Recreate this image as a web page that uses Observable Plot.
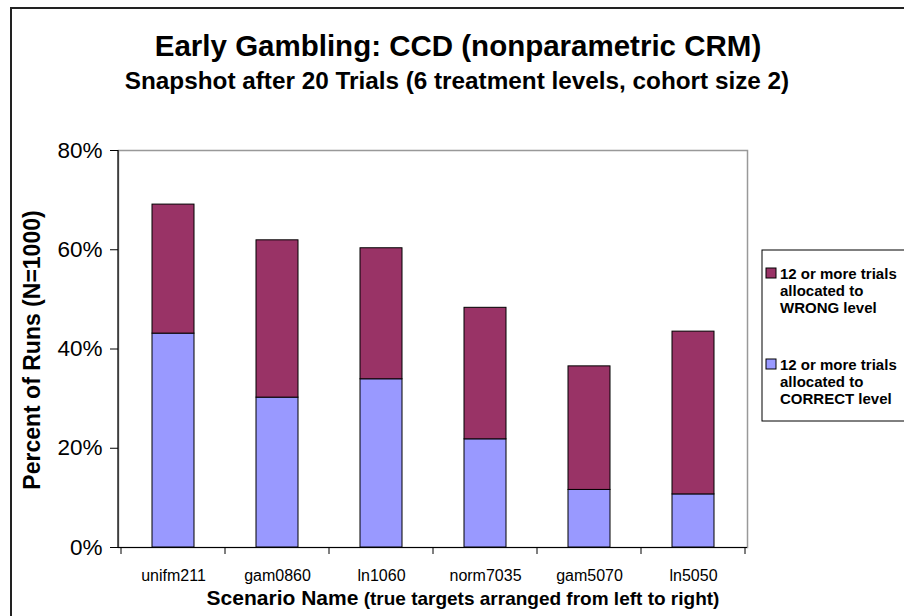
<!DOCTYPE html>
<html>
<head>
<meta charset="utf-8">
<script src="https://cdn.jsdelivr.net/npm/d3@7"></script>
<script src="https://cdn.jsdelivr.net/npm/@observablehq/plot@0.6"></script>
<style>
  html, body { margin: 0; padding: 0; background: #fff; }
  svg { display: block; }
</style>
</head>
<body>
<div id="chart"></div>
<script>
const scenarios = ["unifm211", "gam0860", "ln1060", "norm7035", "gam5070", "ln5050"];
const correctPct = [43.1, 30.2, 33.9, 21.8, 11.6, 10.7];
const wrongPct = [26.0, 31.7, 26.4, 26.5, 24.9, 32.8];
const seriesNames = ["CORRECT", "WRONG"];
const seriesColors = ["#9999FF", "#993366"];
const yTicks = [0, 20, 40, 60, 80];
const titleText = "Early Gambling: CCD (nonparametric CRM)";
const subtitleText = "Snapshot after 20 Trials (6 treatment levels, cohort size 2)";
const yLabelText = "Percent of Runs (N=1000)";
const xLabelMain = "Scenario Name";
const xLabelNote = " (true targets arranged from left to right)";
const legendLines = {
  WRONG: ["12 or more trials", "allocated to", "WRONG level"],
  CORRECT: ["12 or more trials", "allocated to", "CORRECT level"]
};

const rows = [];
scenarios.forEach((s, i) => {
  rows.push({scenario: s, series: "CORRECT", value: correctPct[i]});
  rows.push({scenario: s, series: "WRONG", value: wrongPct[i]});
});

const FONT = "'Liberation Sans', Arial, Helvetica, sans-serif";

const chart = Plot.plot({
  width: 904,
  height: 616,
  marginLeft: 118,
  marginRight: 157,
  marginTop: 150,
  marginBottom: 69,
  style: {fontFamily: FONT, background: "#fff", color: "#000"},
  x: {domain: scenarios, paddingInner: 0.6, paddingOuter: 0.3, label: null, axis: null},
  y: {domain: [0, 80], label: null, axis: null},
  color: {domain: seriesNames, range: seriesColors},
  marks: [
    Plot.frame({stroke: "#999", strokeWidth: 1.5}),
    Plot.barY(rows, {x: "scenario", y: "value", fill: "series", stroke: "#000", strokeWidth: 1}),
    Plot.axisY({ticks: yTicks, tickFormat: d => d + "%", tickSize: 8, tickPadding: 8, fontSize: 22.5, stroke: "#000", label: null}),
    Plot.axisX({tickSize: 0, tickPadding: 22, fontSize: 16, label: null}),
    Plot.ruleY([0], {stroke: "#000", strokeWidth: 1.2})
  ]
});

document.getElementById("chart").append(chart);

const svg = d3.select(chart);
const sx = chart.scale("x");
const sy = chart.scale("y");

// left axis line
svg.append("line")
  .attr("x1", sx.range[0]).attr("x2", sx.range[0])
  .attr("y1", sy.apply(0)).attr("y2", sy.apply(80))
  .attr("stroke", "#000").attr("stroke-width", 1.2);

// category boundary ticks
const bounds = scenarios.map(s => sx.apply(s) + sx.bandwidth / 2 - sx.step / 2);
bounds.push(sx.apply(scenarios[scenarios.length - 1]) + sx.bandwidth / 2 + sx.step / 2);
bounds.forEach(x => {
  svg.append("line")
    .attr("x1", x).attr("x2", x)
    .attr("y1", sy.apply(0)).attr("y2", sy.apply(0) + 7)
    .attr("stroke", "#000").attr("stroke-width", 1);
});

// outer border
svg.append("rect")
  .attr("x", 11).attr("y", 8).attr("width", 1000).attr("height", 1000)
  .attr("fill", "none").attr("stroke", "#222").attr("stroke-width", 2);

// titles
svg.append("text").text(titleText)
  .attr("x", 458).attr("y", 56).attr("text-anchor", "middle")
  .attr("font-family", FONT).attr("font-weight", "bold").attr("font-size", 29.5);
svg.append("text").text(subtitleText)
  .attr("x", 457).attr("y", 89).attr("text-anchor", "middle")
  .attr("font-family", FONT).attr("font-weight", "bold").attr("font-size", 24.3);

// y label
svg.append("text").text(yLabelText)
  .attr("transform", "translate(40,350) rotate(-90)")
  .attr("text-anchor", "middle")
  .attr("font-family", FONT).attr("font-weight", "bold").attr("font-size", 23);

// x label
const xl = svg.append("text")
  .attr("x", 463).attr("y", 605)
  .attr("text-anchor", "middle")
  .attr("font-family", FONT).attr("font-weight", "bold");
xl.append("tspan").attr("font-size", 21).text(xLabelMain);
xl.append("tspan").attr("font-size", 19).text(xLabelNote);

// legend
const lg = svg.append("g").attr("text-anchor", "start");
lg.append("rect").attr("x", 762).attr("y", 250).attr("width", 200).attr("height", 171)
  .attr("fill", "#fff").attr("stroke", "#000").attr("stroke-width", 1);
const legendOrder = ["WRONG", "CORRECT"];
const legendTop = [279, 370];
const lineStep = 16.8;
legendOrder.forEach((key, k) => {
  const base = legendTop[k];
  lg.append("rect").attr("x", 766).attr("y", base - 11).attr("width", 10).attr("height", 10)
    .attr("fill", chart.scale("color").apply(key)).attr("stroke", "#000").attr("stroke-width", 1);
  legendLines[key].forEach((line, j) => {
    lg.append("text").text(line)
      .attr("x", 780).attr("y", base + j * lineStep)
      .attr("text-anchor", "start")
      .attr("font-family", FONT).attr("font-weight", "bold").attr("font-size", 15);
  });
});
</script>
</body>
</html>
